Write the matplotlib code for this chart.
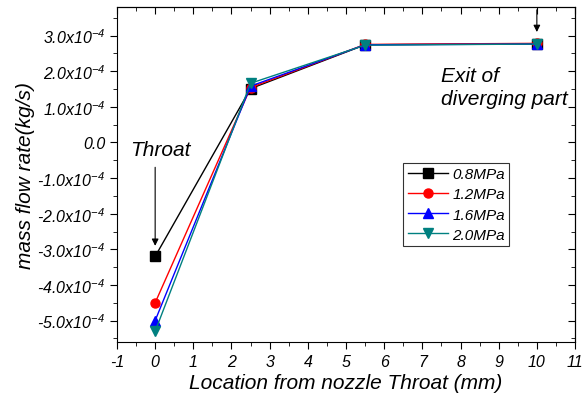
import matplotlib
matplotlib.use("Agg")
import matplotlib.pyplot as plt
from matplotlib.ticker import MultipleLocator, FuncFormatter

plt.rcParams["font.family"] = ["Liberation Sans", "DejaVu Sans"]
plt.rcParams["font.style"] = "italic"
plt.rcParams["mathtext.fontset"] = "custom"
plt.rcParams["mathtext.rm"] = "Liberation Sans:italic"
plt.rcParams["mathtext.it"] = "Liberation Sans:italic"
plt.rcParams["mathtext.default"] = "regular"

location = [0, 2.5, 5.5, 10]
labels = ["0.8MPa", "1.2MPa", "1.6MPa", "2.0MPa"]
flow_08 = [-3.2e-4, 1.51e-4, 2.74e-4, 2.77e-4]
flow_12 = [-4.5e-4, 1.54e-4, 2.75e-4, 2.78e-4]
flow_16 = [-5.0e-4, 1.58e-4, 2.74e-4, 2.76e-4]
flow_20 = [-5.3e-4, 1.66e-4, 2.73e-4, 2.76e-4]

series = [flow_08, flow_12, flow_16, flow_20]
colors = ["black", "red", "blue", "#008080"]
markers = ["s", "o", "^", "v"]


def sci_fmt(v, pos):
    m = v / 1e-4
    if abs(m) < 1e-9:
        return "0.0"
    return f"{m:.1f}x10$^{{-4}}$"


fig = plt.figure(figsize=(5.87, 4.02), dpi=100)
ax = fig.add_axes([0.1993, 0.1468, 0.7803, 0.8333])

for ys, lab, c, mk in zip(series, labels, colors, markers):
    ax.plot(location, ys, color=c, marker=mk, markersize=6.5, linewidth=1.0, label=lab)

ax.set_xlim(-1, 11)
ax.set_ylim(-5.6e-4, 3.8e-4)
ax.xaxis.set_major_locator(MultipleLocator(1))
ax.xaxis.set_minor_locator(MultipleLocator(0.5))
ax.yaxis.set_major_locator(MultipleLocator(1e-4))
ax.yaxis.set_minor_locator(MultipleLocator(0.5e-4))
ax.yaxis.set_major_formatter(FuncFormatter(sci_fmt))
ax.xaxis.set_major_formatter(FuncFormatter(lambda v, p: f"{v:.0f}"))
ax.tick_params(which="both", direction="out", labelsize=11.5)
ax.tick_params(which="major", length=5)
ax.tick_params(which="minor", length=3)

# mirrored inward ticks on top and right
top = ax.secondary_xaxis("top")
top.set_xticks(range(-1, 12))
top.xaxis.set_minor_locator(MultipleLocator(0.5))
top.tick_params(which="both", direction="in", labeltop=False)
top.tick_params(which="major", length=5)
top.tick_params(which="minor", length=3)
right = ax.secondary_yaxis("right")
right.yaxis.set_major_locator(MultipleLocator(1e-4))
right.yaxis.set_minor_locator(MultipleLocator(0.5e-4))
right.tick_params(which="both", direction="in", labelright=False)
right.tick_params(which="major", length=5)
right.tick_params(which="minor", length=3)

ax.set_xlabel("Location from nozzle Throat (mm)", fontsize=15, labelpad=3)
ax.set_ylabel("mass flow rate(kg/s)", fontsize=15, labelpad=2)

ax.annotate("", xy=(0, -2.98e-4), xytext=(0, -0.62e-4),
            arrowprops=dict(arrowstyle="-|>", color="black", lw=0.8))
ax.text(-0.65, -0.47e-4, "Throat", fontsize=15, ha="left", va="bottom")
ax.annotate("", xy=(10, 3.02e-4), xytext=(10, 3.8e-4),
            arrowprops=dict(arrowstyle="-|>", color="black", lw=0.8))
ax.text(7.5, 1.55e-4, "Exit of\ndiverging part", fontsize=15, ha="left", va="center",
        linespacing=1.3)

leg = ax.legend(loc="upper left", bbox_to_anchor=(0.625, 0.535), fontsize=11,
                frameon=True, fancybox=False, edgecolor="black", borderpad=0.3,
                handlelength=2.6, labelspacing=0.4, handletextpad=0.3,
                borderaxespad=0)
leg.get_frame().set_linewidth(0.8)

fig.savefig("out.png", dpi=100)
